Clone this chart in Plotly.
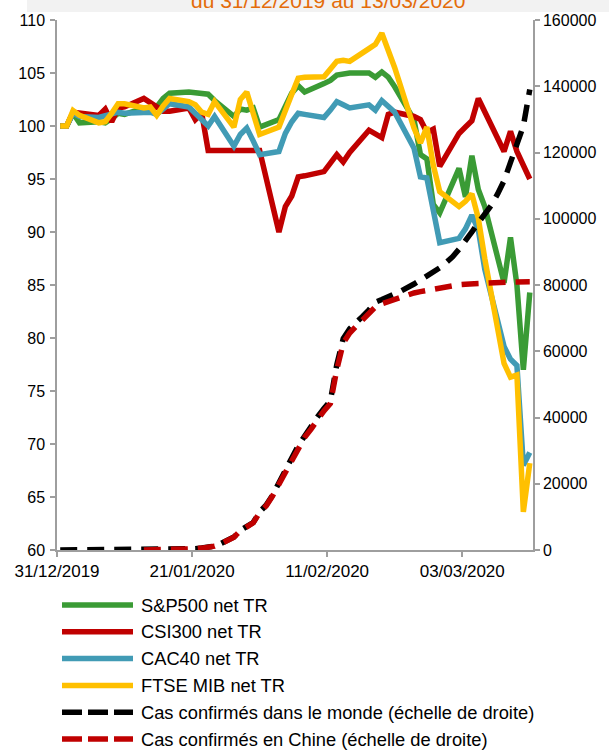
import pandas as pd
import plotly.graph_objects as go

# ---------------- data ----------------
trading_days = pd.bdate_range("2019-12-31", "2020-03-13")      # 54 business days
calendar_days = pd.date_range("2019-12-31", "2020-03-13")      # 74 days
china_days = pd.date_range("2020-01-13", "2020-03-13")         # 61 days

sp500 = [100.0, 100.0, 101.2, 100.3, 100.4, 100.3, 100.7, 101.2, 101.1, 101.7, 101.6, 101.8, 102.6, 103.1,
         103.2, 103.1, 103.1, 103.0, 102.4, 100.9, 101.6, 101.5, 101.7, 99.9,
         100.6, 102.0, 103.1, 103.8, 103.2, 104.0, 104.3, 104.8, 104.9, 105.0,
         105.0, 104.6, 105.1, 104.6, 103.7, 100.6, 97.3, 96.9, 92.6, 91.8,
         96.0, 93.3, 97.2, 94.0, 92.4, 85.2, 89.5, 85.0, 77.0, 84.3]

csi300 = [100.0, 100.0, 101.3, 101.2, 101.0, 101.6, 100.4, 101.7, 101.8, 102.6, 102.2, 101.8, 101.4, 101.4,
          101.7, 100.6, 101.2, 97.7, 97.7, 97.7, 97.7, 97.7, 97.7, 97.7,
          90.0, 92.4, 93.4, 95.2, 95.3, 95.7, 96.5, 97.3, 96.6, 97.5,
          99.6, 99.2, 98.9, 101.1, 101.3, 100.9, 100.6, 99.4, 99.7, 96.2,
          99.3, 99.9, 100.5, 102.6, 101.3, 97.6, 99.5, 97.6, 96.3, 95.0]

cac40 = [100.0, 100.0, 101.2, 100.9, 100.8, 101.0, 101.2, 101.3, 101.2, 101.2, 101.3, 101.1, 101.6, 102.1,
         101.8, 101.2, 100.7, 100.0, 100.9, 98.1, 99.2, 99.8, 98.6, 97.3,
         97.6, 99.3, 100.4, 101.2, 101.1, 100.8, 101.5, 102.3, 102.0, 101.7,
         102.0, 101.5, 102.4, 101.9, 101.3, 97.9, 95.2, 95.1, 91.9, 89.0,
         89.4, 90.3, 91.6, 90.2, 86.5, 79.2, 78.0, 77.4, 68.0, 69.2]

ftse_mib = [100.0, 100.0, 101.45, 101.0, 100.3, 100.4, 101.2, 102.1, 102.1, 101.7, 101.8, 101.0, 101.9, 102.6,
            102.3, 102.0, 101.3, 101.1, 102.3, 99.9, 102.5, 103.2, 101.2, 99.2,
            99.9, 101.6, 103.0, 104.5, 104.6, 104.65, 105.3, 106.1, 106.2, 106.1,
            107.3, 107.7, 108.75, 107.0, 105.5, 99.8, 98.4, 99.9, 96.3, 93.8,
            92.4, 92.9, 93.6, 91.3, 87.5, 77.6, 76.3, 76.5, 63.6, 68.2]

world_cases = [0] * 20 + [
    280, 400, 600, 850, 1200, 2000, 2800, 3900, 5900, 7000,
    8300, 11500, 13500, 16500, 20000, 24000, 27800, 31500, 34500, 37000,
    40200, 42700, 45000, 56000, 63800, 66800, 68500, 70500, 72500, 74800,
    75600, 76300, 77300, 78200, 79500, 80300, 81500, 82600, 83800, 85200,
    86800, 88500, 90800, 93200, 96000, 98800, 101500, 104000, 107500, 111500,
    117000, 122000, 128000, 139000]

china_cases = [0] * 7 + [
    270, 380, 570, 830, 1150, 1950, 2750, 3850, 5800, 6900,
    8200, 11300, 13300, 16300, 19800, 23700, 27400, 31000, 34000, 36500,
    39600, 42000, 44200, 54500, 62500, 65500, 67500, 69400, 71300, 73400,
    74300, 75000, 75600, 76200, 76900, 77600, 78000, 78400, 78700, 79000,
    79400, 79900, 80100, 80250, 80400, 80500, 80650, 80750, 80800, 80850,
    80880, 80910, 80930, 80950]

names = ["S&P500 net TR", "CSI300 net TR", "CAC40 net TR", "FTSE MIB net TR",
         "Cas confirmés dans le monde (échelle de droite)",
         "Cas confirmés en Chine (échelle de droite)"]
title_text = "du 31/12/2019 au 13/03/2020"

# ---------------- styles ----------------
FONT = "Liberation Sans, Arial, sans-serif"
colors = ["#3A9B35", "#C00000", "#419BB5", "#FFC000", "#000000", "#C00000"]
dashes = ["solid", "solid", "solid", "solid", "17px,10px", "17px,10px"]
AX = "#9E9E9E"

# points are centred in their day slot (Excel date-axis style)
slot = pd.Timedelta(hours=12)

fig = go.Figure()
index_series = [sp500, csi300, cac40, ftse_mib]
for i, vals in enumerate(index_series):
    fig.add_trace(go.Scatter(x=trading_days + slot, y=vals, mode="lines", name=names[i],
                             line=dict(color=colors[i], width=5.5, dash=dashes[i]),
                             yaxis="y", showlegend=False))
fig.add_trace(go.Scatter(x=calendar_days + slot, y=world_cases, mode="lines", name=names[4],
                         line=dict(color=colors[4], width=5.5, dash=dashes[4]),
                         yaxis="y2", showlegend=False))
fig.add_trace(go.Scatter(x=china_days + slot, y=china_cases, mode="lines", name=names[5],
                         line=dict(color=colors[5], width=5.5, dash=dashes[5]),
                         yaxis="y2", showlegend=False))

W, H = 609, 750
ML, MR, MT, MB = 57, 76, 20, 200
PW, PH = W - ML - MR, H - MT - MB


def px_x(px):
    return (px - ML) / PW


def px_y(py):
    return (H - MB - py) / PH


shapes = []
annotations = []

# grey title band (partly outside the visible page, as in the source)
shapes.append(dict(type="rect", xref="paper", yref="paper", x0=px_x(27), x1=px_x(W + 5),
                   y0=px_y(12), y1=px_y(-10), fillcolor="#F2F2F2", line=dict(width=0), layer="below"))
annotations.append(dict(text=title_text, xref="paper", yref="paper", x=px_x(328), y=px_y(1),
                        xanchor="center", yanchor="middle", showarrow=False,
                        font=dict(family=FONT, size=21, color="#E46C0A")))

# legend drawn below the plot
for i, name in enumerate(names):
    yy = px_y(605 + 26.8 * i)
    shapes.append(dict(type="line", xref="paper", yref="paper", x0=px_x(62), x1=px_x(133),
                       y0=yy, y1=yy,
                       line=dict(color=colors[i], width=5.5,
                                 dash=dashes[i] if dashes[i] == "solid" else "20px,6px")))
    annotations.append(dict(text=name, xref="paper", yref="paper", x=px_x(139), y=yy,
                            xanchor="left", yanchor="middle", showarrow=False,
                            font=dict(family=FONT, size=18.3, color="#000000")))

axis_common = dict(showgrid=False, zeroline=False, showline=True, linecolor=AX, linewidth=1.5,
                   ticks="outside", ticklen=5, tickwidth=1.5, tickcolor=AX)

fig.update_layout(
    width=W, height=H,
    margin=dict(l=ML, r=MR, t=MT, b=MB),
    paper_bgcolor="white", plot_bgcolor="white",
    showlegend=False,
    font=dict(family=FONT, color="#000000"),
    xaxis=dict(type="date", range=["2019-12-31", "2020-03-14"],
               tickmode="linear", tick0="2019-12-31", dtick=21 * 24 * 3600 * 1000,
               tickformat="%d/%m/%Y", tickfont=dict(size=17, color="#000000"),
               **axis_common),
    yaxis=dict(range=[60, 110], dtick=5, tickfont=dict(size=16, color="#000000"),
               ticklabelstandoff=2, **axis_common),
    yaxis2=dict(range=[0, 160000], dtick=20000, tickformat="d", overlaying="y", side="right",
                tickfont=dict(size=16, color="#000000"), **axis_common),
    shapes=shapes,
    annotations=annotations,
)

fig.write_html("out.html", config={"displayModeBar": False},
               post_script="document.body.style.margin='0px';document.body.style.overflow='hidden';")
